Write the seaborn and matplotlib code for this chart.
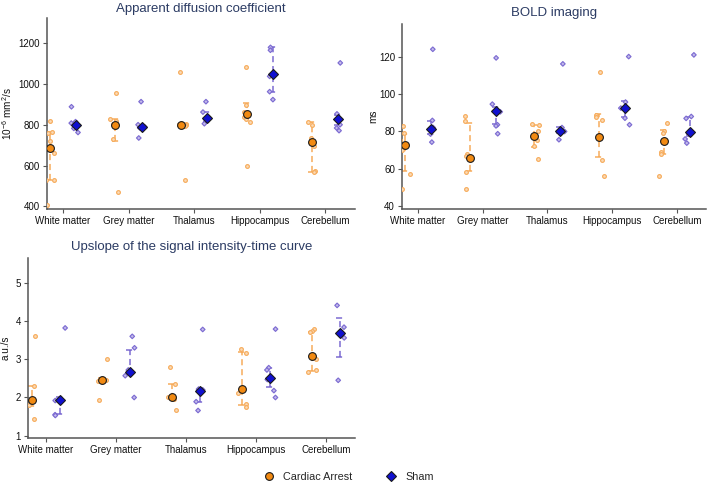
import numpy as np
import pandas as pd
import matplotlib
matplotlib.use("Agg")
import matplotlib.pyplot as plt
from matplotlib.markers import MarkerStyle
import matplotlib.colors as mcolors
import seaborn as sns

# ---------------- data ----------------
regions = ["White matter", "Grey matter", "Thalamus", "Hippocampus", "Cerebellum"]
groups = ["Cardiac Arrest", "Sham"]

# Apparent diffusion coefficient (10^-6 mm^2/s)
adc_ca_points = [[818, 762, 757, 722, 660, 530, 528, 405],
                 [955, 828, 820, 805, 790, 728, 468],
                 [1060, 805, 800, 798, 795, 531],
                 [1083, 898, 860, 838, 830, 815, 599],
                 [812, 800, 733, 694, 572, 567]]
adc_ca_median = [688, 800, 800, 853, 714]
adc_ca_q1 = [527, 718, 795, 832, 570]
adc_ca_q3 = [762, 828, 805, 905, 812]
adc_sh_points = [[888, 815, 808, 802, 795, 782, 762],
                 [913, 800, 795, 790, 785, 735],
                 [913, 862, 835, 831, 817, 805],
                 [1179, 1165, 1045, 1037, 962, 923],
                 [1103, 853, 800, 784, 771]]
adc_sh_median = [800, 790, 833, 1047, 828]
adc_sh_q1 = [790, 785, 812, 962, 800]
adc_sh_q3 = [810, 797, 862, 1180, 850]

# BOLD imaging (ms)
bold_ca_points = [[82.7, 79.1, 75.2, 70.2, 57.4, 49.2],
                  [88.4, 85.7, 68.1, 67.0, 58.3, 49.2],
                  [84.1, 83.5, 80.2, 75.6, 72.4, 65.2],
                  [111.5, 88.9, 88.0, 85.9, 64.9, 56.0],
                  [84.4, 80.5, 79.0, 69.3, 68.0, 56.4]]
bold_ca_median = [72.8, 65.8, 77.5, 77.2, 75.0]
bold_ca_q1 = [59.0, 59.0, 71.5, 66.5, 68.0]
bold_ca_q3 = [78.5, 84.5, 83.5, 89.5, 81.0]
bold_sh_points = [[123.9, 85.9, 82.1, 78.6, 74.3],
                  [119.3, 94.6, 90.5, 83.6, 83.0, 78.8],
                  [116.1, 82.1, 80.0, 79.5, 75.6],
                  [120.0, 95.7, 92.5, 87.1, 83.6],
                  [120.9, 88.0, 87.0, 78.5, 76.0, 73.8]]
bold_sh_median = [81.3, 90.7, 80.2, 92.5, 79.6]
bold_sh_q1 = [78.5, 84.0, 79.0, 88.0, 77.5]
bold_sh_q3 = [85.5, 93.0, 82.5, 96.5, 87.5]

# Upslope of the signal intensity-time curve (a.u./s)
up_ca_points = [[3.60, 2.30, 1.95, 1.81, 1.43],
                [3.01, 2.48, 2.46, 2.42, 1.94],
                [2.80, 2.34, 2.02, 1.97, 1.68],
                [3.26, 3.17, 2.12, 1.82, 1.74],
                [3.80, 3.75, 3.72, 3.02, 2.71, 2.68]]
up_ca_median = [1.94, 2.47, 2.01, 2.21, 3.09]
up_ca_q1 = [1.77, 2.44, 1.96, 1.80, 2.70]
up_ca_q3 = [2.30, 2.50, 2.36, 3.20, 3.72]
up_sh_points = [[3.82, 1.93, 1.92, 1.55, 1.53],
                [3.60, 3.30, 2.72, 2.57, 2.00],
                [3.78, 2.22, 2.20, 1.89, 1.66],
                [3.79, 2.78, 2.72, 2.47, 2.18, 2.00],
                [4.41, 3.84, 3.56, 2.45]]
up_sh_median = [1.93, 2.68, 2.16, 2.52, 3.69]
up_sh_q1 = [1.58, 2.60, 1.88, 2.28, 3.07]
up_sh_q3 = [2.00, 3.25, 2.20, 2.78, 4.08]

titles = ["Apparent diffusion coefficient", "BOLD imaging",
          "Upslope of the signal intensity-time curve"]
ylabels = [r"10$^{\mathrm{-6}}$ mm$^{\mathrm{2}}$/s", "ms", "a.u./s"]
yticks = [[400, 600, 800, 1000, 1200], [40, 60, 80, 100, 120], [1, 2, 3, 4, 5]]

# ---------------- style ----------------
sns.set_theme(style="white")
plt.rcParams["font.family"] = ["Liberation Sans", "DejaVu Sans"]
plt.rcParams["mathtext.fontset"] = "custom"
plt.rcParams["mathtext.rm"] = "Liberation Sans"
plt.rcParams["mathtext.it"] = "Liberation Sans:italic"
plt.rcParams["mathtext.bf"] = "Liberation Sans:bold"

dark_pal = {"Cardiac Arrest": "#F28A12", "Sham": "#1010D0"}
light_pal = {"Cardiac Arrest": "#F6AC5C", "Sham": "#7D6CD2"}
title_color = "#2B3B63"
spine_color = "#555555"


def build_frames(ca_pts, ca_med, ca_q1, ca_q3, sh_pts, sh_med, sh_q1, sh_q3):
    pts_rows, sum_rows = [], []
    for g, pts, med, q1, q3 in [(groups[0], ca_pts, ca_med, ca_q1, ca_q3),
                                (groups[1], sh_pts, sh_med, sh_q1, sh_q3)]:
        for r, p, m, a, b in zip(regions, pts, med, q1, q3):
            for v in p:
                pts_rows.append({"region": r, "group": g, "value": v})
            for v in (a, m, b):
                sum_rows.append({"region": r, "group": g, "value": v})
    return pd.DataFrame(pts_rows), pd.DataFrame(sum_rows)


panels = [
    build_frames(adc_ca_points, adc_ca_median, adc_ca_q1, adc_ca_q3,
                 adc_sh_points, adc_sh_median, adc_sh_q1, adc_sh_q3),
    build_frames(bold_ca_points, bold_ca_median, bold_ca_q1, bold_ca_q3,
                 bold_sh_points, bold_sh_median, bold_sh_q1, bold_sh_q3),
    build_frames(up_ca_points, up_ca_median, up_ca_q1, up_ca_q3,
                 up_sh_points, up_sh_median, up_sh_q1, up_sh_q3),
]

W, H = 708, 482
fig = plt.figure(figsize=(W / 100, H / 100), dpi=100)


def px_axes(left, top, right, bottom):
    return fig.add_axes([left / W, 1 - bottom / H, (right - left) / W, (bottom - top) / H])


axes = [px_axes(47, 18, 355, 209), px_axes(402, 24, 706, 209), px_axes(28, 258, 355, 438)]
xlims = [(-0.245, 4.455), (-0.245, 4.45), (-0.257, 4.41)]
ylims = [(387, 1323), (38.6, 137.4), (0.94, 5.65)]
label_x = [-0.108, -0.077, -0.052]
title_pad = [4.5, 6, 5.5]

np.random.seed(3)
handles, labels = None, None
for i, (ax, (pts_df, sum_df)) in enumerate(zip(axes, panels)):
    # IQR error bars (dashed)
    sns.pointplot(data=sum_df, x="region", y="value", hue="group", order=regions,
                  hue_order=groups, palette=light_pal, estimator="median",
                  errorbar=("pi", 100), dodge=0.4, linestyles="none", markers="o",
                  markersize=0, capsize=0.12, legend=False, ax=ax,
                  err_kws={"linestyle": (0, (4, 2.5)), "linewidth": 1.1, "zorder": 2})
    n_before = len(ax.collections)
    # individual animals
    sns.stripplot(data=pts_df, x="region", y="value", hue="group", order=regions,
                  hue_order=groups, palette=light_pal, dodge=True, jitter=0.16,
                  size=2.7, linewidth=0, legend=False, ax=ax, zorder=3)
    diamond = MarkerStyle("D")
    dpath = diamond.get_path().transformed(diamond.get_transform())
    sham_rgb = np.array(mcolors.to_rgb(light_pal["Sham"]))
    for coll in ax.collections[n_before:]:
        fc = coll.get_facecolor()
        if len(fc) == 0:
            continue
        rgb = np.array(fc[0][:3])
        face = 0.45 * rgb + 0.55 * np.ones(3)
        coll.set_edgecolor(rgb)
        coll.set_facecolor(face)
        coll.set_linewidth(0.85)
        if np.allclose(rgb, sham_rgb, atol=0.02):
            coll.set_paths([dpath])
            coll.set_sizes(np.full(len(coll.get_offsets()), 5.5))
    # medians
    sns.pointplot(data=sum_df, x="region", y="value", hue="group", order=regions,
                  hue_order=groups, palette=dark_pal, estimator="median",
                  errorbar=None, dodge=0.4, linestyles="none", markers=["o", "D"],
                  markersize=5.6, markeredgecolor="#1a1a1a", markeredgewidth=0.8,
                  legend=(i == 0), ax=ax, zorder=4)
    if i == 0:
        handles, labels = ax.get_legend_handles_labels()
        if ax.get_legend() is not None:
            ax.get_legend().remove()

    ax.set_xlim(*xlims[i])
    ax.set_ylim(*ylims[i])
    ax.set_yticks(yticks[i])
    ax.set_xlabel("")
    ax.set_ylabel(ylabels[i], fontsize=7.2, color="#111111")
    ax.yaxis.set_label_coords(label_x[i], 0.5)
    ax.set_title(titles[i], fontsize=9.5, color=title_color, pad=title_pad[i])
    for side in ["top", "right"]:
        ax.spines[side].set_visible(False)
    for side in ["left", "bottom"]:
        ax.spines[side].set_color(spine_color)
        ax.spines[side].set_linewidth(1.1)
    ax.tick_params(axis="both", which="both", length=3, width=0.8, color=spine_color,
                   labelsize=7, labelcolor="#111111", pad=2, bottom=True, left=True)

fig.legend(handles, labels, loc="center", bbox_to_anchor=(348 / W, 1 - 477 / H),
           ncol=2, frameon=False, fontsize=7.8, handletextpad=0.7, columnspacing=3.0,
           markerscale=1.0, handlelength=1.2)

fig.savefig("out.png", dpi=100)
